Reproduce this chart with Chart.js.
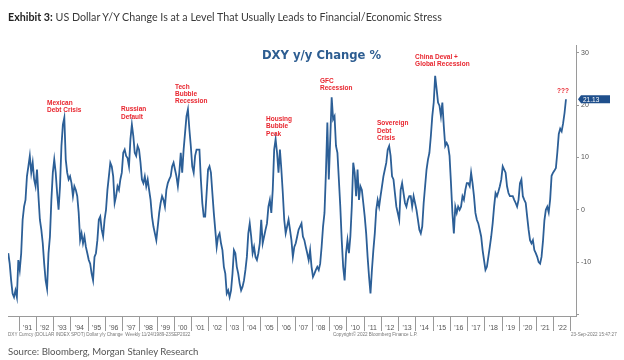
<!DOCTYPE html>
<html>
<head>
<meta charset="utf-8">
<script src="https://cdn.jsdelivr.net/npm/chart.js@4/dist/chart.umd.min.js"></script>
<style>
body { margin: 0; background: #fff; }
#wrap { position: relative; width: 624px; height: 360px; overflow: hidden; font-family: Lato, "Open Sans", sans-serif; }
#title { position: absolute; left: 8px; top: 10px; font-size: 10.7px; color: #3a3a3a; white-space: nowrap; }
#title b { color: #222; }
#dxy { position: absolute; left: 262px; top: 48px; font: bold 11.6px "DejaVu Sans", sans-serif; color: #2d5d91; white-space: nowrap; }
#source { position: absolute; left: 8px; top: 346px; font-size: 9.6px; color: #555; white-space: nowrap; }
.foot { position: absolute; top: 332px; font: 4.6px "Liberation Sans", Arial, sans-serif; color: #777; white-space: nowrap; }
canvas { position: absolute; left: 0; top: 0; }
</style>
</head>
<body>
<div id="wrap">
  <canvas id="chart" width="624" height="360"></canvas>
  <div id="title"><b>Exhibit 3:</b> US Dollar Y/Y Change Is at a Level That Usually Leads to Financial/Economic Stress</div>
  <div id="dxy">DXY y/y Change %</div>
  <div class="foot" style="left:8px">DXY Curncy (DOLLAR INDEX SPOT) Dollar y/y Change &nbsp;Weekly 11/24/1989-23SEP2022</div>
  <div class="foot" style="left:333px">Copyright© 2022 Bloomberg Finance L.P.</div>
  <div class="foot" style="left:571px">23-Sep-2022 15:47:27</div>
  <div id="source">Source: Bloomberg, Morgan Stanley Research</div>
</div>
<script>
// DXY y/y % change, monthly readings (1990 starts in May)
var yoy1990 = [-8.3, -10.3, -13.5, -16.0, -16.7, -15.4, -16.7, -9.6];
var yoy1991 = [-11.5, -8.3, -1.9, 0.6, 1.9, 6.4, 8.3, 10.3, 7.1, 9.0, 5.8, 4.5];
var yoy1992 = [7.7, 2.6, -1.9, -3.8, -6.4, -10.3, -13.5, -15.1, -8.3, -5.1, 1.9, 7.1];
var yoy1993 = [9.6, 7.1, 3.2, 0.0, 4.5, 12.2, 16.3, 17.6, 9.6, 7.1, 5.8, 6.4];
var yoy1994 = [5.1, 2.6, 4.5, 3.8, 2.6, -0.6, -5.8, -4.5, -6.4, -5.1, -7.1, -8.3];
var yoy1995 = [-9.6, -10.3, -12.2, -13.5, -9.0, -8.3, -5.8, -1.9, -1.3, -3.8, -5.1, -1.9];
var yoy1996 = [0.0, 3.8, 6.4, 9.0, 8.3, 6.4, 1.3, 2.6, 4.5, 3.8, 5.8, 7.1];
var yoy1997 = [10.9, 11.5, 10.3, 9.9, 8.3, 13.5, 16.3, 14.1, 10.9, 10.3, 12.2, 11.5];
var yoy1998 = [9.0, 5.8, 5.1, 6.4, 4.5, 5.8, 3.8, 1.9, -1.3, -3.2, -4.5, -5.8];
var yoy1999 = [-3.2, -0.6, 1.3, 2.6, 1.9, 0.6, 3.8, 5.1, 5.8, 6.4, 8.3, 9.0];
var yoy2000 = [7.7, 6.4, 4.5, 7.1, 10.9, 7.1, 11.5, 14.7, 17.9, 19.2, 15.4, 12.2];
var yoy2001 = [8.3, 7.1, 10.3, 11.5, 11.5, 11.5, 5.8, 1.3, -1.3, -1.3, 3.2, 7.7];
var yoy2002 = [8.3, 7.1, 3.2, -0.6, -3.8, -7.1, -5.1, -4.5, -6.4, -7.7, -10.9, -12.2];
var yoy2003 = [-16.0, -15.4, -16.7, -15.4, -12.2, -7.7, -8.3, -10.9, -12.2, -14.1, -15.4, -14.7];
var yoy2004 = [-13.5, -11.5, -9.0, -4.5, -2.6, -5.1, -8.3, -7.1, -9.0, -9.6, -8.3, -6.4];
var yoy2005 = [-1.9, -6.4, -5.1, -3.8, -2.6, 0.6, 1.9, -0.6, 3.8, 11.5, 13.5, 10.9];
var yoy2006 = [7.1, 11.5, 7.7, 3.2, -1.9, -4.5, -3.2, -1.9, -3.8, -5.8, -9.0, -7.1];
var yoy2007 = [-6.4, -5.1, -3.8, -3.2, -2.6, -5.1, -5.8, -7.1, -8.3, -9.6, -7.7, -10.9];
var yoy2008 = [-12.8, -12.2, -11.5, -10.9, -11.5, -10.3, -7.1, -3.2, -0.6, 7.1, 16.7, 5.8];
var yoy2009 = [13.5, 21.5, 17.3, 17.9, 12.2, 10.9, 5.8, 0.6, -5.8, -10.9, -13.5, -8.3];
var yoy2010 = [-5.8, -8.3, -5.1, 0.6, 9.0, 7.1, 2.6, 7.7, 1.9, 4.5, 3.8, 1.3];
var yoy2011 = [-1.3, -4.5, -9.0, -12.8, -16.0, -11.5, -7.7, -4.5, 0.0, 1.9, 0.6, 2.6];
var yoy2012 = [4.5, 6.4, 7.7, 9.0, 11.5, 12.2, 10.3, 6.4, 5.8, 3.2, 0.6, -0.6];
var yoy2013 = [-1.9, 3.8, 5.1, 3.2, 1.3, 0.6, 1.9, 2.6, 2.6, 0.6, 2.6, 1.3];
var yoy2014 = [0.0, -1.9, -3.8, -4.5, -3.2, 1.3, 4.5, 7.7, 9.6, 10.9, 14.1, 17.9];
var yoy2015 = [20.5, 25.6, 23.1, 20.5, 19.9, 17.9, 20.5, 16.0, 12.2, 12.8, 12.2, 10.3];
var yoy2016 = [5.1, -0.6, -4.5, 0.6, -0.6, 0.6, 0.0, 0.6, 2.6, 1.9, 3.8, 5.1];
var yoy2017 = [5.1, 4.5, 7.1, 5.1, 2.6, -0.6, -1.9, -2.6, -3.8, -5.1, -7.7, -9.6];
var yoy2018 = [-11.5, -10.9, -9.0, -7.1, -5.1, -2.6, 0.6, 3.2, 2.6, 3.5, 4.5, 5.8];
var yoy2019 = [8.3, 7.7, 7.1, 4.5, 3.2, 2.6, 2.6, 2.6, 1.9, 1.3, 0.6, 1.9];
var yoy2020 = [5.1, 5.8, 2.6, 1.9, 1.3, -1.3, -3.8, -5.8, -6.4, -5.8, -7.7, -8.3];
var yoy2021 = [-9.0, -10.0, -10.3, -9.0, -6.0, -2.0, 0.0, 0.6, -0.5, 2.0, 6.5, 7.1];
var yoy2022 = [7.5, 8.0, 11.0, 14.5, 15.5, 15.0, 16.5, 18.5, 21.13];

// [year, first month, values]
var years = [
    [1990, 5, yoy1990], [1991, 1, yoy1991], [1992, 1, yoy1992], [1993, 1, yoy1993],
    [1994, 1, yoy1994], [1995, 1, yoy1995], [1996, 1, yoy1996], [1997, 1, yoy1997],
    [1998, 1, yoy1998], [1999, 1, yoy1999], [2000, 1, yoy2000], [2001, 1, yoy2001],
    [2002, 1, yoy2002], [2003, 1, yoy2003], [2004, 1, yoy2004], [2005, 1, yoy2005],
    [2006, 1, yoy2006], [2007, 1, yoy2007], [2008, 1, yoy2008], [2009, 1, yoy2009],
    [2010, 1, yoy2010], [2011, 1, yoy2011], [2012, 1, yoy2012], [2013, 1, yoy2013],
    [2014, 1, yoy2014], [2015, 1, yoy2015], [2016, 1, yoy2016], [2017, 1, yoy2017],
    [2018, 1, yoy2018], [2019, 1, yoy2019], [2020, 1, yoy2020], [2021, 1, yoy2021],
    [2022, 1, yoy2022]
];

var xTickLabels = ["'91", "'92", "'93", "'94", "'95", "'96", "'97", "'98", "'99", "'00", "'01",
    "'02", "'03", "'04", "'05", "'06", "'07", "'08", "'09", "'10", "'11", "'12", "'13",
    "'14", "'15", "'16", "'17", "'18", "'19", "'20", "'21", "'22"];
var yTickValues = [-20, -10, 0, 10, 20, 30];
var yTickLabels = ['', '-10', '0', '10', '20', '30'];

// event notes: [year, value at top line, text lines]
var notes = [
    [1992.62, 20.4, ['Mexican', 'Debt Crisis']],
    [1996.91, 19.2, ['Russian', 'Default']],
    [2000.04, 23.5, ['Tech', 'Bubble', 'Recession']],
    [2005.32, 17.3, ['Housing', 'Bubble', 'Peak']],
    [2008.45, 24.6, ['GFC', 'Recession']],
    [2011.75, 16.5, ['Sovereign', 'Debt', 'Crisis']],
    [2013.96, 29.2, ['China Deval +', 'Global Recession']],
    [2022.19, 22.7, ['???']]
];

var points = [];
years.forEach(function (row) {
    row[2].forEach(function (v, i) {
        points.push({ x: row[0] + (row[1] + i - 0.5) / 12, y: v });
    });
});
var lastValue = points[points.length - 1].y;

var blue = '#2c5f97';
var axisGrey = '#9a9a9a';
var tickFont = { family: 'Liberation Sans', size: 7 };

// red event labels + last value box on the right axis
var notesPlugin = {
    id: 'notes',
    afterDatasetsDraw: function (chart) {
        var c = chart.ctx, xs = chart.scales.x, ys = chart.scales.y;
        c.save();
        c.font = 'bold 6.5px "Liberation Sans", Arial, sans-serif';
        c.fillStyle = '#e8262f';
        c.textBaseline = 'middle';
        notes.forEach(function (n) {
            var px = xs.getPixelForValue(n[0]);
            var py = ys.getPixelForValue(n[1]);
            n[2].forEach(function (line, i) {
                c.fillText(line, px, py + i * 7.4);
            });
        });
        var by = ys.getPixelForValue(lastValue);
        var bx = chart.chartArea.right + 2;
        c.fillStyle = '#1f4f8c';
        c.beginPath();
        c.moveTo(bx, by);
        c.lineTo(bx + 3, by - 4);
        c.lineTo(bx + 32, by - 4);
        c.lineTo(bx + 32, by + 4);
        c.lineTo(bx + 3, by + 4);
        c.closePath();
        c.fill();
        c.fillStyle = '#fff';
        c.font = '6.5px "Liberation Sans", Arial, sans-serif';
        c.fillText(lastValue.toFixed(2), bx + 5, by + 0.5);
        c.restore();
    }
};

var ctx = document.getElementById('chart').getContext('2d');
var chart = new Chart(ctx, {
    type: 'line',
    data: {
        datasets: [{
            data: points,
            borderColor: blue,
            borderWidth: 1.8,
            pointRadius: 0,
            tension: 0
        }]
    },
    options: {
        responsive: false,
        animation: false,
        events: [],
        layout: { padding: { left: 8, top: 45, right: 0, bottom: 0 } },
        plugins: { legend: { display: false }, tooltip: { enabled: false } },
        scales: {
            x: {
                type: 'linear',
                min: 1990.36,
                max: 2023.29,
                afterBuildTicks: function (s) {
                    s.ticks = [];
                    for (var y = 1991; y <= 2023; y++) s.ticks.push({ value: y });
                },
                afterFit: function (s) { s.height = 44; },
                grid: { drawOnChartArea: false, tickLength: 15, color: axisGrey },
                border: { color: axisGrey },
                ticks: {
                    autoSkip: false,
                    maxRotation: 0,
                    labelOffset: 8.6,
                    padding: -7,
                    color: '#555',
                    font: tickFont,
                    callback: function (v) { return xTickLabels[v - 1991] || ''; }
                }
            },
            y: {
                position: 'right',
                min: -20.3,
                max: 31.5,
                afterBuildTicks: function (s) {
                    s.ticks = yTickValues.map(function (v) { return { value: v }; });
                },
                afterFit: function (s) { s.width = 48; },
                grid: { drawOnChartArea: false, tickLength: 3, color: axisGrey },
                border: { color: axisGrey },
                ticks: {
                    padding: 2,
                    color: '#555',
                    font: tickFont,
                    callback: function (v) { return yTickLabels[yTickValues.indexOf(v)]; }
                }
            }
        }
    },
    plugins: [notesPlugin]
});
</script>
</body>
</html>
